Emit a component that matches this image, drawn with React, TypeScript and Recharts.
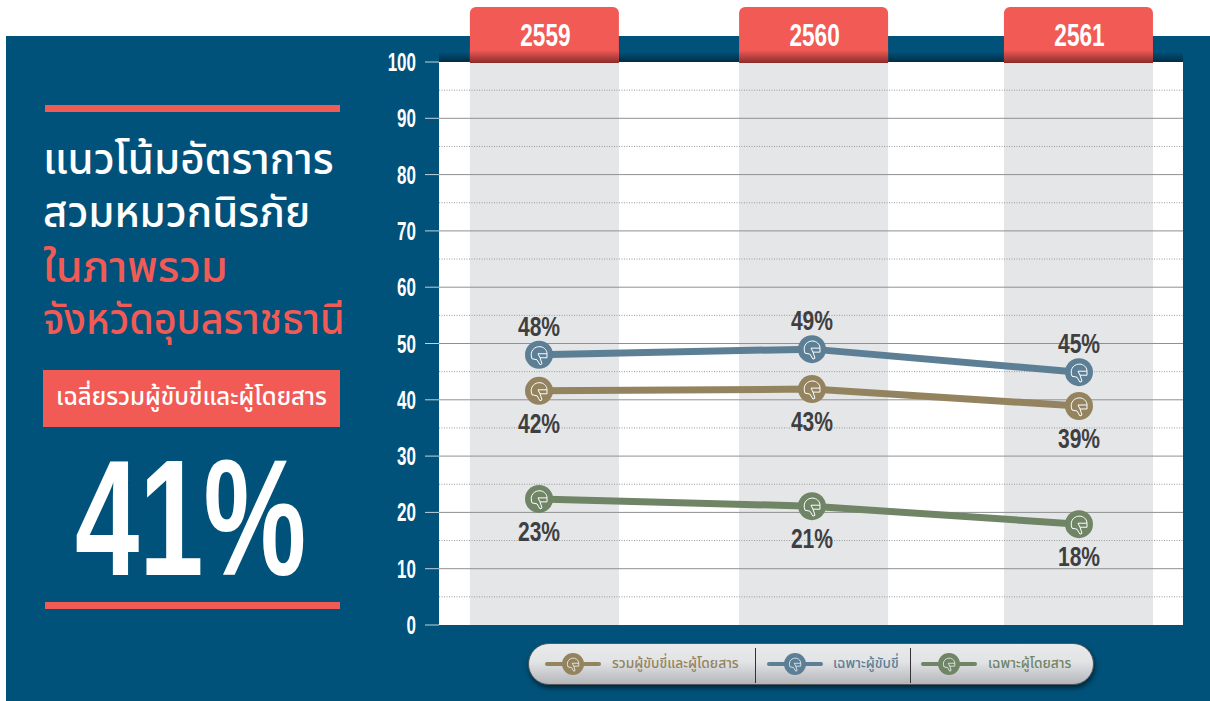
import { Legend, LabelList, Line, LineChart, ReferenceArea, ReferenceLine, XAxis, YAxis } from 'recharts'

const years = [2559, 2560.011, 2561]
const totalValues = [41.6, 41.9, 38.9]
const driverValues = [48, 49, 44.9]
const passengerValues = [22.4, 21.1, 17.9]
const totalLabels = ['42%', '43%', '39%']
const driverLabels = ['48%', '49%', '45%']
const passengerLabels = ['23%', '21%', '18%']
const bandStarts = [2558.744, 2559.741, 2560.722]
const bandEnds = [2559.296, 2560.293, 2561.274]
const majorTicks = [0, 10, 20, 30, 40, 50, 60, 70, 80, 90, 100]
const gridLines = [10, 20, 30, 40, 50, 60, 70, 80, 90]
const minorLines = [5, 15, 25, 35, 45, 55, 65, 75, 85, 95]
const titleWhite = ['แนวโน้มอัตราการ', 'สวมหมวกนิรภัย']
const titleRed = ['ในภาพรวม', 'จังหวัดอุบลราชธานี']
const seriesNames = ['รวมผู้ขับขี่และผู้โดยสาร', 'เฉพาะผู้ขับขี่', 'เฉพาะผู้โดยสาร']

const data = years.map((year, i) => ({
  year,
  total: totalValues[i],
  driver: driverValues[i],
  passenger: passengerValues[i],
  totalLabel: totalLabels[i],
  driverLabel: driverLabels[i],
  passengerLabel: passengerLabels[i],
}))

const PANEL = '#00527a'
const RED = '#f25a55'
const TOTAL = '#94835f'
const DRIVER = '#5c7f96'
const PASSENGER = '#6f8566'
const THAI = '"Noto Sans Thai", "Noto Sans", "Noto Sans CJK SC", sans-serif'
const NARROW = '"Liberation Sans", sans-serif'
const X_MIN = 2558.6296
const X_MAX = 2561.3852

function Helmet({ cx, cy, s = 1 }: { cx: number; cy: number; s?: number }) {
  return (
    <g transform={`translate(${cx},${cy}) scale(${s})`} fill="none" stroke="#fff" strokeWidth={1}>
      <path d="M-7 4 C-10 -4 -4 -9 2 -8 C6 -7 8 -4 8 -1 L8 3 L1 3 L-1 -1 L8 -1" />
      <path d="M-7 4 L-2 5 L1 10 L3 9 L1 3" />
    </g>
  )
}

function makeDot(color: string) {
  return (props: any) => (
    <g key={props.index}>
      <circle cx={props.cx} cy={props.cy} r={14} fill={color} />
      <Helmet cx={props.cx} cy={props.cy} />
    </g>
  )
}

function makeValueLabel(offset: number) {
  return (props: any) => (
    <text
      transform={`translate(${props.x},${props.y + offset}) scale(0.78,1)`}
      textAnchor="middle"
      fontFamily={NARROW}
      fontWeight={700}
      fontSize={27}
      fill="#3f3f41"
    >
      {props.value}
    </text>
  )
}

function YTick({ x, y, payload }: any) {
  return (
    <text
      transform={`translate(${x},${y + 9}) scale(0.68,1)`}
      textAnchor="end"
      fontFamily={NARROW}
      fontWeight={700}
      fontSize={25}
      fill="#fff"
    >
      {payload.value}
    </text>
  )
}

function YearTab({ x, payload }: any) {
  const left = x - 74.5
  return (
    <g>
      <path d={`M${left} 62 V13 a6 6 0 0 1 6 -6 H${left + 143} a6 6 0 0 1 6 6 V62 Z`} fill={RED} />
      <rect x={left} y={50} width={149} height={13} fill="url(#tabShade)" />
      <text
        transform={`translate(${x + 1},46) scale(0.73,1)`}
        textAnchor="middle"
        fontFamily={NARROW}
        fontWeight={700}
        fontSize={31}
        fill="#fff"
      >
        {Math.round(payload.value)}
      </text>
    </g>
  )
}

function LegendMark({ color }: { color: string }) {
  return (
    <svg width={56} height={26} style={{ flex: 'none' }}>
      <rect x={0} y={11} width={56} height={4} rx={2} fill={color} />
      <ellipse cx={28} cy={13} rx={11} ry={11} fill={color} />
      <Helmet cx={28} cy={13} s={0.72} />
    </svg>
  )
}

function PillLegend() {
  const items = [
    { left: 16, textLeft: 83, color: TOTAL },
    { left: 238, textLeft: 304, color: DRIVER },
    { left: 392, textLeft: 459, color: PASSENGER },
  ]
  return (
    <div
      style={{
        position: 'relative',
        width: 566,
        height: 42,
        boxSizing: 'border-box',
        borderRadius: 21,
        border: '1px solid #55585a',
        background: 'linear-gradient(#e9eaec 0%, #e2e3e5 45%, #b5b6b9 100%)',
        boxShadow: '1px 3px 5px rgba(0,0,0,0.55)',
      }}
    >
      {items.map((item, i) => (
        <div key={i}>
          <div style={{ position: 'absolute', left: item.left, top: 7 }}>
            <LegendMark color={item.color} />
          </div>
          <div
            style={{
              position: 'absolute',
              left: item.textLeft,
              top: 9,
              fontFamily: THAI,
              fontSize: 14.5,
              lineHeight: '22px',
              fontWeight: 500,
              whiteSpace: 'nowrap',
              color: item.color,
              transform: 'scaleX(0.95)',
              transformOrigin: 'left top',
            }}
          >
            {seriesNames[i]}
          </div>
        </div>
      ))}
      <div style={{ position: 'absolute', left: 226, top: 4, width: 1, height: 35, background: '#333' }} />
      <div style={{ position: 'absolute', left: 381, top: 4, width: 1, height: 35, background: '#333' }} />
    </div>
  )
}

function TitleLine({ text, top, color, stretch = 1 }: { text: string; top: number; color: string; stretch?: number }) {
  return (
    <div
      style={{
        position: 'absolute',
        left: 43,
        top,
        fontFamily: THAI,
        fontSize: 42,
        lineHeight: '50px',
        fontWeight: 500,
        color,
        whiteSpace: 'nowrap',
        transform: `scaleX(${stretch})`,
        transformOrigin: 'left top',
      }}
    >
      {text}
    </div>
  )
}

export default function App() {
  return (
    <div style={{ position: 'absolute', left: 0, top: 0, width: 1210, height: 701, overflow: 'hidden', background: '#fff' }}>
      <div style={{ position: 'absolute', left: 6, top: 36, width: 1204, height: 665, background: PANEL }} />
      <div style={{ position: 'absolute', left: 45, top: 105, width: 295, height: 7, background: RED }} />
      <TitleLine text={titleWhite[0]} top={136} color="#fff" />
      <TitleLine text={titleWhite[1]} top={189} color="#fff" />
      <TitleLine text={titleRed[0]} top={244} color={RED} stretch={1.03} />
      <TitleLine text={titleRed[1]} top={296} color={RED} stretch={0.94} />
      <div
        style={{
          position: 'absolute',
          left: 43,
          top: 370,
          width: 297,
          height: 57,
          background: RED,
          color: '#fff',
          fontFamily: THAI,
          fontSize: 24,
          fontWeight: 500,
          lineHeight: '57px',
          textAlign: 'center',
          whiteSpace: 'nowrap',
        }}
      >
        เฉลี่ยรวมผู้ขับขี่และผู้โดยสาร
      </div>
      <div
        style={{
          position: 'absolute',
          left: 75,
          top: 428,
          fontFamily: NARROW,
          fontWeight: 700,
          fontSize: 165,
          lineHeight: '180px',
          color: '#fff',
          transform: 'scaleX(0.7)',
          transformOrigin: 'left top',
          whiteSpace: 'nowrap',
        }}
      >
        41%
      </div>
      <div style={{ position: 'absolute', left: 45, top: 602, width: 295, height: 7, background: RED }} />

      <div style={{ position: 'absolute', left: 0, top: 0 }}>
        <LineChart width={1210} height={701} data={data} margin={{ top: 61, right: 27, bottom: 76, left: 379 }}>
          <defs>
            <linearGradient id="tabShade" x1="0" y1="0" x2="0" y2="1">
              <stop offset="0%" stopColor={RED} />
              <stop offset="100%" stopColor="#8a2c2b" />
            </linearGradient>
            <linearGradient id="topShade" x1="0" y1="0" x2="0" y2="1">
              <stop offset="0%" stopColor={PANEL} />
              <stop offset="100%" stopColor="#012c45" />
            </linearGradient>
          </defs>
          <ReferenceArea y1={0} y2={100} x1={X_MIN} x2={X_MAX} fill="#fff" fillOpacity={1} stroke="none" />
          <ReferenceArea
            y1={100}
            y2={101.8}
            x1={X_MIN}
            x2={X_MAX}
            fill="url(#topShade)"
            fillOpacity={1}
            stroke="none"
            ifOverflow="visible"
          />
          {bandStarts.map((start, i) => (
            <ReferenceArea key={i} x1={start} x2={bandEnds[i]} y1={0} y2={100} fill="#e5e6e8" fillOpacity={1} stroke="none" />
          ))}
          {minorLines.map((v) => (
            <ReferenceLine key={v} y={v} stroke="#9a9a9a" strokeDasharray="1 1.5" />
          ))}
          {gridLines.map((v) => (
            <ReferenceLine key={v} y={v} stroke="#8f9092" />
          ))}
          <XAxis
            dataKey="year"
            type="number"
            orientation="top"
            height={1}
            domain={[X_MIN, X_MAX]}
            ticks={bandStarts.map((start, i) => (start + bandEnds[i]) / 2)}
            tick={<YearTab />}
            tickLine={false}
            axisLine={false}
            interval={0}
          />
          <YAxis
            type="number"
            domain={[0, 100]}
            ticks={majorTicks}
            width={60}
            tick={<YTick />}
            tickSize={14}
            tickMargin={9}
            tickLine={{ stroke: '#c3d2da' }}
            axisLine={false}
            interval={0}
          />
          <Legend
            layout="horizontal"
            verticalAlign="middle"
            content={<PillLegend />}
            wrapperStyle={{ position: 'absolute', left: 528, top: 643, width: 566, height: 42 }}
          />
          <Line dataKey="total" name={seriesNames[0]} stroke={TOTAL} strokeWidth={7} dot={makeDot(TOTAL)} isAnimationActive={false}>
            <LabelList dataKey="totalLabel" content={makeValueLabel(42)} />
          </Line>
          <Line dataKey="driver" name={seriesNames[1]} stroke={DRIVER} strokeWidth={7} dot={makeDot(DRIVER)} isAnimationActive={false}>
            <LabelList dataKey="driverLabel" content={makeValueLabel(-19)} />
          </Line>
          <Line dataKey="passenger" name={seriesNames[2]} stroke={PASSENGER} strokeWidth={7} dot={makeDot(PASSENGER)} isAnimationActive={false}>
            <LabelList dataKey="passengerLabel" content={makeValueLabel(42)} />
          </Line>
        </LineChart>
      </div>
    </div>
  )
}
